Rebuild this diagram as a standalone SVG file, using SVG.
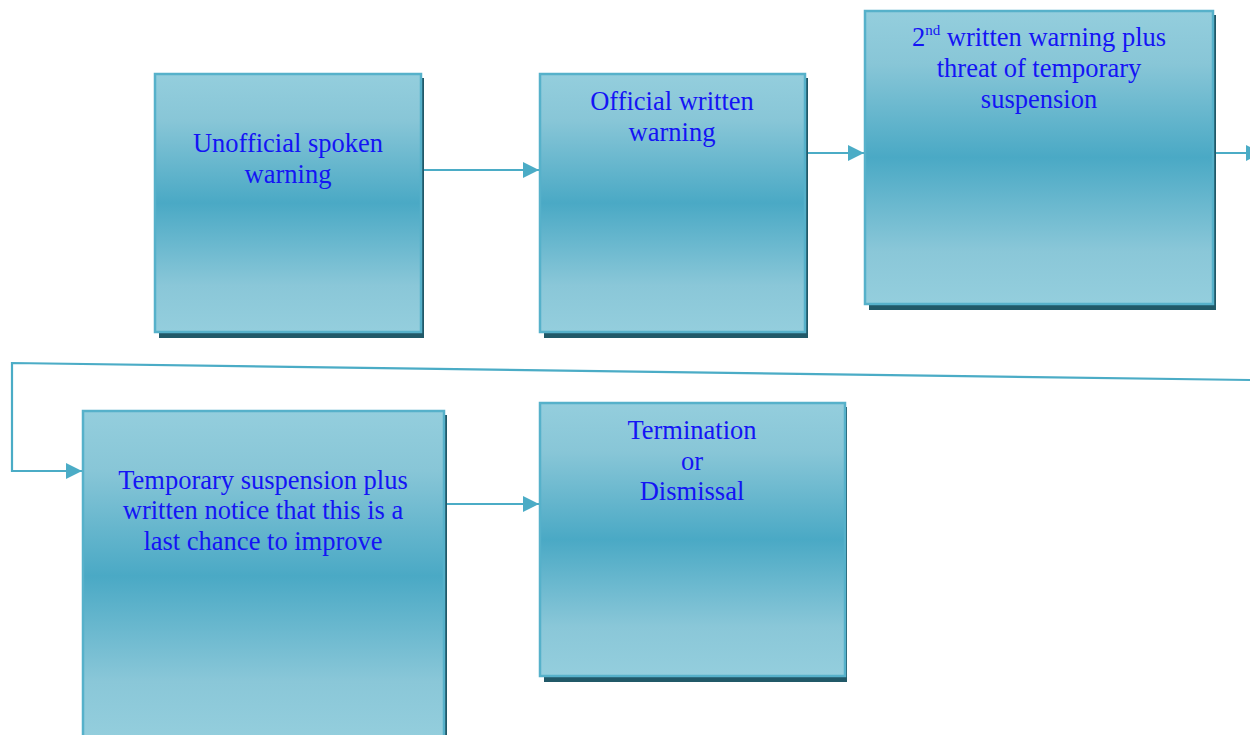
<svg xmlns="http://www.w3.org/2000/svg" width="1250" height="735" viewBox="0 0 1250 735">
<defs>
<linearGradient id="g" x1="0" y1="0" x2="0" y2="1">
<stop offset="0" stop-color="#94cedd"/>
<stop offset="0.18" stop-color="#88c6d7"/>
<stop offset="0.5" stop-color="#4aa9c5"/>
<stop offset="0.82" stop-color="#8ac7d8"/>
<stop offset="1" stop-color="#94cedd"/>
</linearGradient>
<marker id="ah" viewBox="0 0 10 10" refX="10" refY="5" markerWidth="16" markerHeight="16" markerUnits="userSpaceOnUse" orient="auto">
<path d="M0,0 L10,5 L0,10 Z" fill="#4bacc6"/>
</marker>
</defs>
<style>
.sh{fill:#215968}
.bx{fill:url(#g);stroke:#56b1ca;stroke-width:2.5}
.t{font-family:"Liberation Serif","Times New Roman",serif;font-size:26.5px;fill:#1414f5;text-anchor:middle}
.c{fill:none;stroke:#4bacc6;stroke-width:2.2}
</style>
<rect width="1250" height="735" fill="#fff"/>
<g id="connectors">
<path class="c" d="M421,170 H539" marker-end="url(#ah)"/>
<path class="c" d="M805,153 H864" marker-end="url(#ah)"/>
<path class="c" d="M1214,153 H1262" marker-end="url(#ah)"/>
<path class="c" d="M1250,380 L12,363 V471 H82" marker-end="url(#ah)"/>
<path class="c" d="M445,504 H539" marker-end="url(#ah)"/>
</g>
<g id="n1">
<rect class="sh" x="159" y="78" width="265" height="260"/>
<rect class="bx" x="155" y="74" width="266" height="258"/>
<text class="t" x="288" y="152">Unofficial spoken</text>
<text class="t" x="288" y="183">warning</text>
</g>
<g id="n2">
<rect class="sh" x="544" y="78" width="264" height="260"/>
<rect class="bx" x="540" y="74" width="265" height="258"/>
<text class="t" x="672" y="110">Official written</text>
<text class="t" x="672" y="141">warning</text>
</g>
<g id="n3">
<rect class="sh" x="869" y="15" width="347" height="295"/>
<rect class="bx" x="865" y="11" width="348" height="293"/>
<text class="t" x="1039" y="46">2<tspan font-size="15" dy="-11">nd</tspan><tspan dy="11"> written warning plus</tspan></text>
<text class="t" x="1039" y="77">threat of temporary</text>
<text class="t" x="1039" y="108">suspension</text>
</g>
<g id="n4">
<rect class="sh" x="87" y="415" width="360" height="330"/>
<rect class="bx" x="83" y="411" width="361" height="330"/>
<text class="t" x="263" y="489">Temporary suspension plus</text>
<text class="t" x="263" y="519">written notice that this is a</text>
<text class="t" x="263" y="550">last chance to improve</text>
</g>
<g id="n5">
<rect class="sh" x="544" y="407" width="303" height="275"/>
<rect class="bx" x="540" y="403" width="305" height="273"/>
<text class="t" x="692" y="439">Termination</text>
<text class="t" x="692" y="470">or</text>
<text class="t" x="692" y="500">Dismissal</text>
</g>
</svg>
